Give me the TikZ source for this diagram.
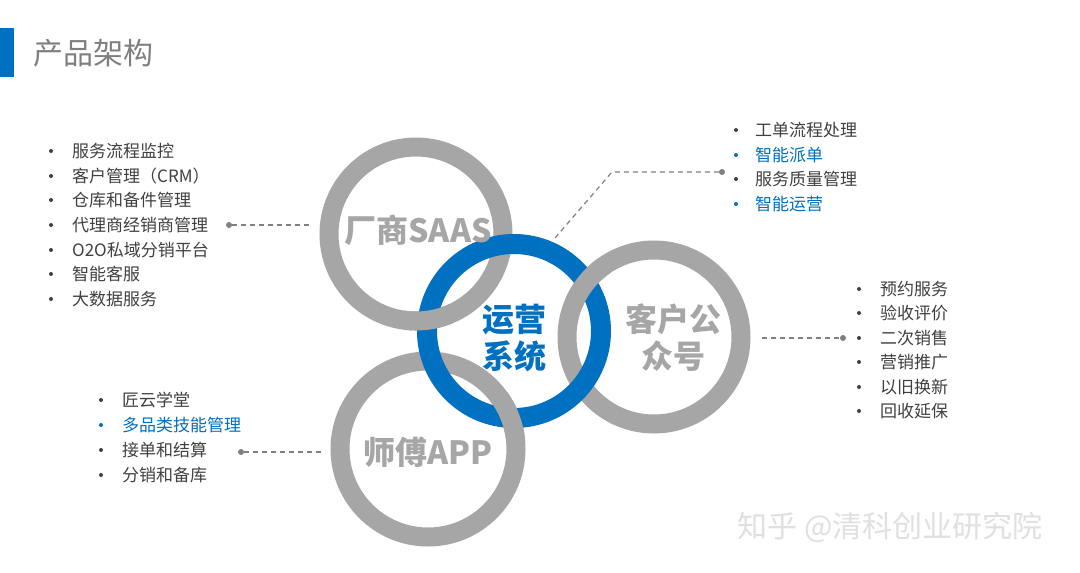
\documentclass[tikz,border=0pt]{standalone}
\usepackage{fontspec}
\newfontfamily\cjk{Noto Sans CJK SC}
\definecolor{ringgray}{HTML}{A6A6A6}
\definecolor{mainblue}{HTML}{0070C0}
\definecolor{txtgray}{HTML}{404040}
\definecolor{titlegray}{HTML}{7F7F7F}
\definecolor{wmgray}{HTML}{E0E0E0}
\definecolor{dashgray}{HTML}{808080}
\tikzset{
  ring/.style={line width=19pt, draw=ringgray},
  bluering/.style={line width=20pt, draw=mainblue},
  item/.style={anchor=west, inner sep=0pt, font=\cjk\fontsize{17}{20}\selectfont, text=txtgray},
  bitem/.style={item, text=mainblue},
  bul/.style={circle, fill=txtgray, inner sep=0pt, minimum size=4pt},
  bbul/.style={bul, fill=mainblue},
  ringlbl/.style={inner sep=0pt, font=\cjk\bfseries\fontsize{32}{37}\selectfont, text=ringgray, align=center},
  dot/.style={circle, fill=dashgray, inner sep=0pt, minimum size=6pt},
  conn/.style={draw=dashgray, line width=1.2pt, dash pattern=on 5pt off 4pt},
}
\begin{document}
\begin{tikzpicture}[x=1pt,y=-1pt]
\useasboundingbox (0,0) rectangle (1080,573);
\fill[white] (0,0) rectangle (1080,573);
% title
\fill[mainblue] (0,28) rectangle (14,77);
\node[anchor=west, inner sep=0pt, font=\cjk\fontsize{30}{34}\selectfont, text=titlegray] (title) at (33,53) {产品架构};
% watermark
\node[inner sep=0pt, font=\cjk\fontsize{30}{34}\selectfont, text=wmgray] (wm) at (890,527) {知乎 @清科创业研究院};
% ring centres
\coordinate (cS) at (416,234);
\coordinate (cB) at (514,331);
\coordinate (cC) at (654,337);
\coordinate (cA) at (428,449);
% gray rings
\draw[ring] (cS) circle (87pt);
\draw[ring] (cC) circle (87pt);
\draw[ring] (cA) circle (88pt);
% blue ring
\draw[bluering] (cB) circle (87pt);
% interlock: gray over blue
\begin{scope}
  \clip (428,320) circle (26pt);
  \draw[ring] (cS) circle (87pt);
\end{scope}
\begin{scope}
  \clip (586,282) circle (26pt);
  \draw[ring] (cC) circle (87pt);
\end{scope}
\begin{scope}
  \clip (509,418) circle (26pt);
  \draw[ring] (cA) circle (88pt);
\end{scope}
% ring labels
\node[ringlbl] (lS) at (418,230) {厂商SAAS};
\node[ringlbl, text=mainblue] (lB) at (514,338) {运营\\系统};
\node[ringlbl] (lC) at (673,338) {客户公\\众号};
\node[ringlbl] (lA) at (428,452) {师傅APP};
% left list (SAAS)
\node[item] (s1) at (72,151) {服务流程监控};
\node[item] (s2) at (72,176) {客户管理（CRM）};
\node[item] (s3) at (72,200) {仓库和备件管理};
\node[item] (s4) at (72,225) {代理商经销商管理};
\node[item] (s5) at (72,250) {O2O私域分销平台};
\node[item] (s6) at (72,274) {智能客服};
\node[item] (s7) at (72,299) {大数据服务};
\foreach \i/\y in {1/151,2/176,3/200,4/225,5/250,6/274,7/299}
  \node[bul] (sb\i) at (51,\y) {};
\node[dot] (sdot) at (229,225) {};
\coordinate (sEnd) at (310,225);
\draw[conn] (sdot) -- (sEnd);
% top-right list (operations)
\node[item] (o1) at (755,130) {工单流程处理};
\node[bitem] (o2) at (755,155) {智能派单};
\node[item] (o3) at (755,179) {服务质量管理};
\node[bitem] (o4) at (755,204) {智能运营};
\node[bul] (ob1) at (736,130) {};
\node[bbul] (ob2) at (736,155) {};
\node[bul] (ob3) at (736,179) {};
\node[bbul] (ob4) at (736,204) {};
\node[dot] (odot) at (722,172) {};
\coordinate (oStart) at (555,238);
\coordinate (oBend) at (612,172);
\draw[conn] (oStart) -- (oBend) -- (odot);
% right list (customer account)
\node[item] (c1) at (880,289) {预约服务};
\node[item] (c2) at (880,313) {验收评价};
\node[item] (c3) at (880,338) {二次销售};
\node[item] (c4) at (880,362) {营销推广};
\node[item] (c5) at (880,387) {以旧换新};
\node[item] (c6) at (880,411) {回收延保};
\foreach \i/\y in {1/289,2/313,3/338,4/362,5/387,6/411}
  \node[bul] (cb\i) at (859,\y) {};
\node[dot] (cdot) at (843,338) {};
\coordinate (cStart) at (762,338);
\draw[conn] (cStart) -- (cdot);
% bottom-left list (technician app)
\node[item] (a1) at (122,400) {匠云学堂};
\node[bitem] (a2) at (122,425) {多品类技能管理};
\node[item] (a3) at (122,450) {接单和结算};
\node[item] (a4) at (122,475) {分销和备库};
\node[bul] (ab1) at (101,400) {};
\node[bbul] (ab2) at (101,425) {};
\node[bul] (ab3) at (101,450) {};
\node[bul] (ab4) at (101,475) {};
\node[dot] (adot) at (241,452) {};
\coordinate (aEnd) at (322,452);
\draw[conn] (adot) -- (aEnd);
\end{tikzpicture}
\end{document}
